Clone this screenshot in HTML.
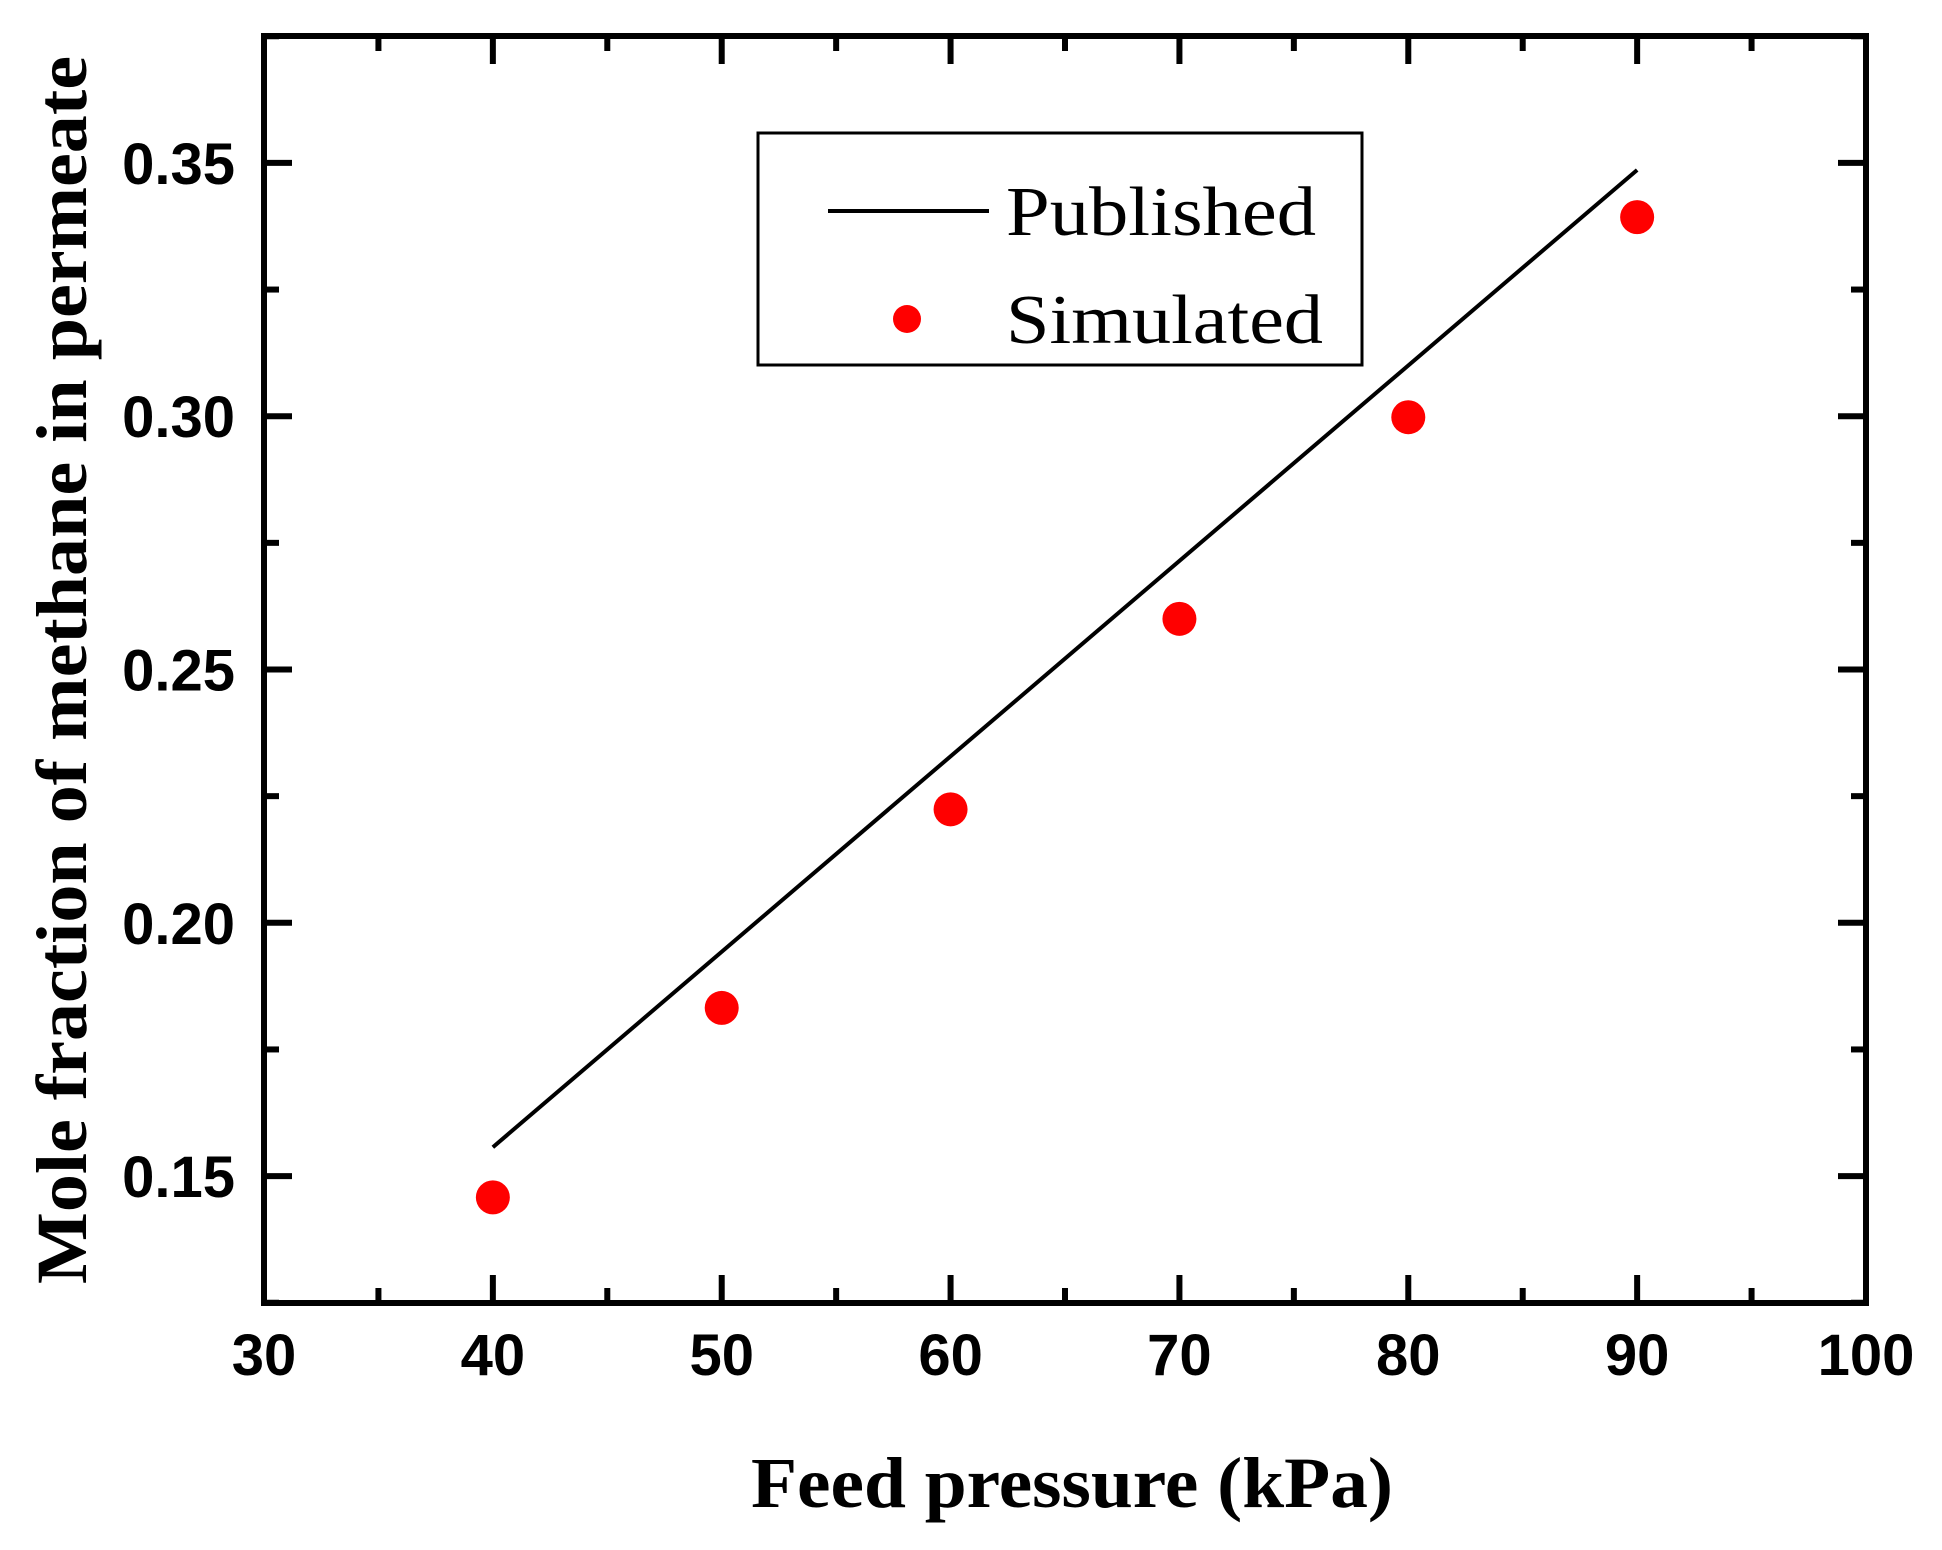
<!DOCTYPE html>
<html><head><meta charset="utf-8"><style>
html,body{margin:0;padding:0;background:#fff;}
svg{display:block;}
</style></head><body>
<svg id="chart" width="1942" height="1550" viewBox="0 0 1942 1550" xmlns="http://www.w3.org/2000/svg">
<g id="ticks"></g>
<g id="marks"></g>
<rect x="264" y="36" width="1602" height="1267" fill="none" stroke="#000" stroke-width="6"/>
<g>
<rect x="758" y="133" width="604" height="232" fill="#fff" stroke="#000" stroke-width="3"/>
<line x1="828" y1="211" x2="989" y2="211" stroke="#000" stroke-width="4"/>
<text x="1006" y="235" font-family="Liberation Serif, serif" font-size="70" textLength="310" lengthAdjust="spacingAndGlyphs">Published</text>
<circle cx="907" cy="319" r="14" fill="#ff0000"/>
<text x="1006" y="343" font-family="Liberation Serif, serif" font-size="70" textLength="317" lengthAdjust="spacingAndGlyphs">Simulated</text>
</g>
<text x="1072" y="1507" text-anchor="middle" font-family="Liberation Serif, serif" font-weight="bold" font-size="72" textLength="642" lengthAdjust="spacingAndGlyphs">Feed pressure (kPa)</text>
<text transform="translate(86,670) rotate(-90)" text-anchor="middle" font-family="Liberation Serif, serif" font-weight="bold" font-size="72" textLength="1228" lengthAdjust="spacingAndGlyphs">Mole fraction of methane in permeate</text>
</svg>
<script>
const xTicks = [30, 40, 50, 60, 70, 80, 90, 100];
const xTickLabels = ["30", "40", "50", "60", "70", "80", "90", "100"];
const yTicks = [0.15, 0.20, 0.25, 0.30, 0.35];
const yTickLabels = ["0.15", "0.20", "0.25", "0.30", "0.35"];
const xMinor = [35, 45, 55, 65, 75, 85, 95];
const yMinor = [0.125, 0.175, 0.225, 0.275, 0.325, 0.375];
const publishedX = [40, 90];
const publishedY = [0.1557, 0.3486];
const simulatedX = [40, 50, 60, 70, 80, 90];
const simulatedY = [0.1458, 0.1832, 0.2224, 0.2600, 0.2998, 0.3393];

const L = 264, R = 1866, T = 36, B = 1303;
const X0 = 30, X1 = 100, Y0 = 0.12495, Y1 = 0.37505;
function sx(v){ return L + (v - X0) / (X1 - X0) * (R - L); }
function sy(v){ return B - (v - Y0) / (Y1 - Y0) * (B - T); }
const NS = "http://www.w3.org/2000/svg";
const ticksG = document.getElementById('ticks');
const marksG = document.getElementById('marks');
function mk(tag, attrs, parent){
  const e = document.createElementNS(NS, tag);
  for (const k in attrs) e.setAttribute(k, attrs[k]);
  parent.appendChild(e);
  return e;
}
function tickLine(x1, y1, x2, y2){
  const l = mk('line', {x1:x1, y1:y1, x2:x2, y2:y2, stroke:'#000', 'stroke-width':6}, ticksG);
  
  
}
xTicks.forEach((v, i) => {
  const x = sx(v);
  tickLine(x, B, x, B - 28);
  tickLine(x, T, x, T + 28);
  const t = mk('text', {x:x, y:1375, 'text-anchor':'middle', 'font-family':'Liberation Sans, sans-serif', 'font-weight':'bold', 'font-size':58}, ticksG);
  t.textContent = xTickLabels[i];
  
  
});
xMinor.forEach(v => { const x = sx(v); tickLine(x, B, x, B - 15); tickLine(x, T, x, T + 15); });
yTicks.forEach((v, i) => {
  const y = sy(v);
  tickLine(L, y, L + 28, y);
  tickLine(R, y, R - 28, y);
  const t = mk('text', {x:235, y:y + 21, 'text-anchor':'end', 'font-family':'Liberation Sans, sans-serif', 'font-weight':'bold', 'font-size':58}, ticksG);
  t.textContent = yTickLabels[i];
  
  
});
yMinor.forEach(v => { const y = sy(v); tickLine(L, y, L + 15, y); tickLine(R, y, R - 15, y); });

const pts = publishedX.map((v, i) => sx(v) + ',' + sy(publishedY[i])).join(' ');
const pl = mk('polyline', {points:pts, fill:'none', stroke:'#000', 'stroke-width':4}, marksG);


simulatedX.forEach((v, i) => {
  const c = mk('circle', {cx:sx(v), cy:sy(simulatedY[i]), r:17, fill:'#ff0000'}, marksG);
  
  
});
</script>
</body></html>
